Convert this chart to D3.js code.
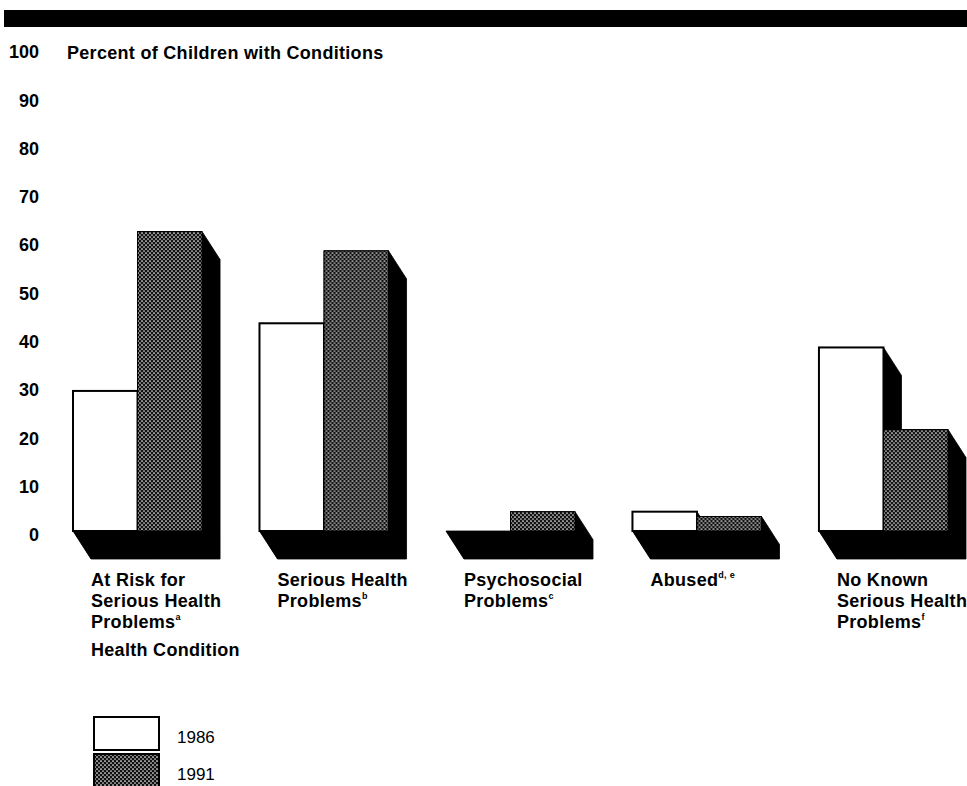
<!DOCTYPE html>
<html><head><meta charset="utf-8">
<script src="https://cdn.jsdelivr.net/npm/d3@7"></script>
<style>
body{margin:0;background:#fff;}
svg{display:block;font-family:"Liberation Sans",Arial,Helvetica,sans-serif;}
</style></head>
<body>
<svg id="c" width="967" height="786"></svg>
<script>
// ---- data ----
const categories = ["At Risk for Serious Health Problems","Serious Health Problems","Psychosocial Problems","Abused","No Known Serious Health Problems"];
const categoryLines = [["At Risk for","Serious Health","Problems"],["Serious Health","Problems"],["Psychosocial","Problems"],["Abused"],["No Known","Serious Health","Problems"]];
const footnotes = ["a","b","c","d, e","f"];
const series = ["1986","1991"];
const values1986 = [29, 43, 0, 4, 38];
const values1991 = [62, 58, 4, 3, 21];
const yTicks = [0,10,20,30,40,50,60,70,80,90,100];
const yTitle = "Percent of Children with Conditions";
const xTitle = "Health Condition";

const svg = d3.select("#c");
const depthX = 18, depthY = 28;

// top rule
svg.append("rect").attr("x",4).attr("y",10).attr("width",963).attr("height",17).attr("fill","#000");

// pattern
const defs = svg.append("defs");
const pat = defs.append("pattern").attr("id","dots").attr("patternUnits","userSpaceOnUse").attr("width",4).attr("height",4);
pat.append("rect").attr("width",4).attr("height",4).attr("fill","#111");
pat.append("circle").attr("cx",1).attr("cy",1).attr("r",0.85).attr("fill","#fff");
pat.append("circle").attr("cx",3).attr("cy",3).attr("r",0.85).attr("fill","#ddd");

// scales
const y = d3.scaleLinear().domain([0,100]).range([531,48]);
const x0 = d3.scaleBand().domain(categories).range([73,948]).paddingInner(0.308).paddingOuter(0);
const x1 = d3.scaleBand().domain(series).range([0,x0.bandwidth()]);

// y axis
const yAxis = svg.append("g").attr("transform","translate(39,4)")
  .call(d3.axisLeft(y).tickValues(yTicks).tickSize(0).tickPadding(0));
yAxis.select(".domain").remove();
yAxis.selectAll("text").attr("font-size",18).attr("font-weight","bold").attr("fill","#000")
  .attr("font-family","'Liberation Sans',Arial,sans-serif");

svg.append("text").attr("x",67).attr("y",59).attr("font-size",18).attr("font-weight","bold")
  .attr("letter-spacing",0.3).text(yTitle);

const data = categories.map((c,i)=>({cat:c, vals:[{s:"1986",v:values1986[i]},{s:"1991",v:values1991[i]}]}));

const groups = svg.selectAll("g.grp").data(data).enter().append("g").attr("class","grp")
  .attr("transform",d=>`translate(${x0(d.cat)},0)`);

// group floor shadow
groups.append("path").attr("class","floor")
  .attr("d",()=>{
    const a = 0, b = x0.bandwidth(), btm = y(0);
    return `M${a},${btm}L${b},${btm}L${b+depthX},${btm+depthY}L${a+depthX},${btm+depthY}Z`;
  }).attr("fill","#000");

// bar shadows
groups.selectAll("path.sh").data(d=>d.vals).enter().append("path").attr("class","sh")
  .attr("d",d=>{
    const a = x1(d.s), b = a + x1.bandwidth(), t = y(d.v), btm = y(0);
    return `M${a},${t}L${b},${t}L${b+depthX},${t+depthY}L${b+depthX},${btm+depthY}L${a+depthX},${btm+depthY}L${a},${btm}Z`;
  }).attr("fill","#000").attr("stroke","#000").attr("stroke-width",0.8);

// bars
groups.selectAll("rect.bar").data(d=>d.vals).enter().append("rect").attr("class","bar")
  .attr("x",d=>x1(d.s)).attr("width",x1.bandwidth())
  .attr("y",d=>y(d.v)).attr("height",d=>y(0)-y(d.v))
  .attr("fill",d=>d.s==="1986"?"#fff":"url(#dots)")
  .attr("stroke","#000").attr("stroke-width",d=>d.s==="1986"?2:1);

// category labels
categories.forEach((c,i)=>{
  const lines = categoryLines[i];
  const t = svg.append("text").attr("x",x0(c)+depthX).attr("y",586)
    .attr("font-size",18).attr("font-weight","bold").attr("letter-spacing",0.3);
  lines.forEach((ln,j)=>{
    t.append("tspan").attr("x",x0(c)+depthX).attr("y",586+j*21).text(ln);
    if(j===lines.length-1){
      t.append("tspan").attr("font-size",9).attr("dy",-8).text(footnotes[i]);
    }
  });
});
svg.append("text").attr("x",x0(categories[0])+depthX).attr("y",656).attr("font-size",18)
  .attr("font-weight","bold").attr("letter-spacing",0.3).text(xTitle);

// legend
const legY = [717,754];
series.forEach((s,i)=>{
  svg.append("rect").attr("x",94).attr("y",legY[i]).attr("width",65).attr("height",i===0?33:40)
    .attr("fill",i===0?"#fff":"url(#dots)").attr("stroke","#000").attr("stroke-width",2);
  svg.append("text").attr("x",177).attr("y",legY[i]+26).attr("font-size",17).text(s);
});
</script>
</body></html>
